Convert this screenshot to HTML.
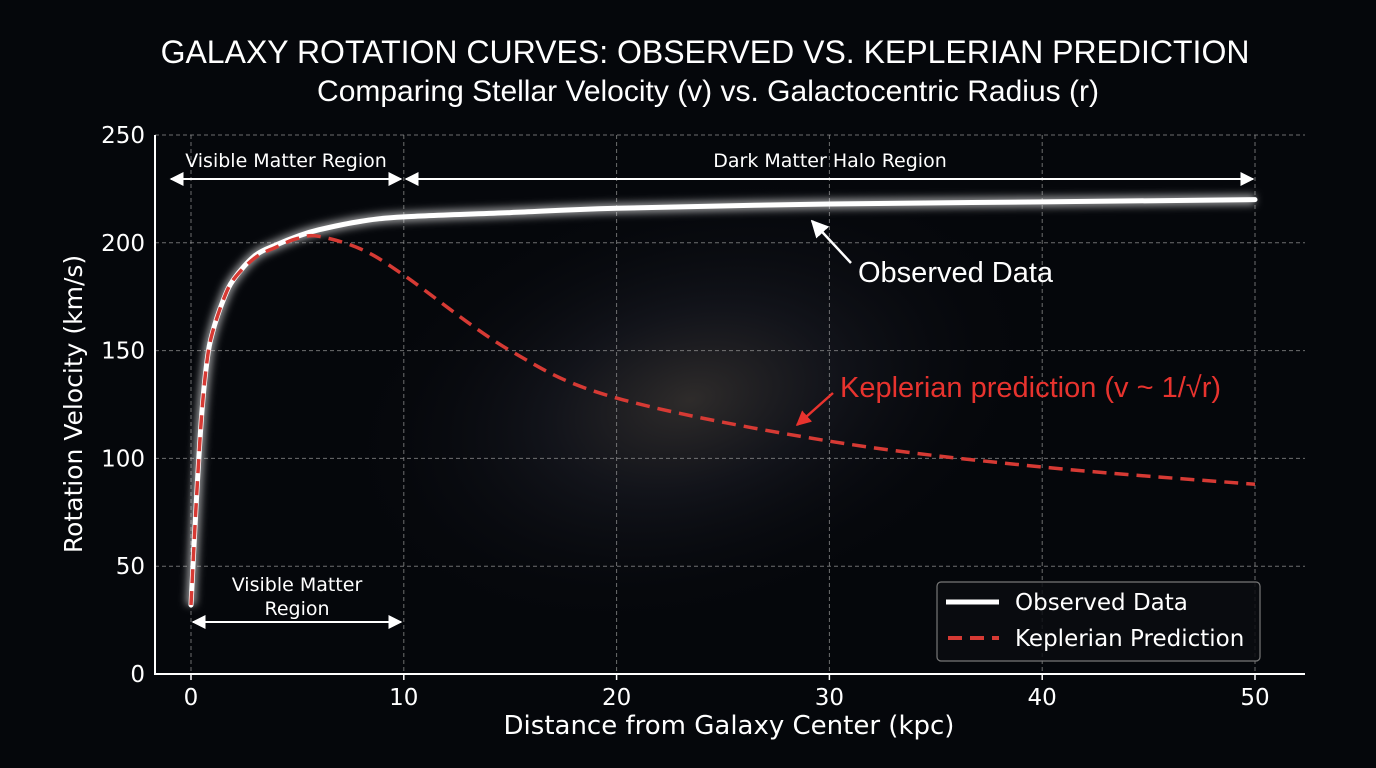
<!DOCTYPE html>
<html><head><meta charset="utf-8"><style>
html,body{margin:0;padding:0;background:#05070b;}
svg{display:block;font-family:"DejaVu Sans","Liberation Sans",sans-serif;}
</style></head><body>
<svg id="chart" width="1376" height="768" viewBox="0 0 1376 768">
<defs>
<radialGradient id="gal" cx="0.5" cy="0.5" r="0.5">
<stop offset="0" stop-color="#4a4440" stop-opacity="0.6"/>
<stop offset="0.4" stop-color="#1f2029" stop-opacity="0.5"/>
<stop offset="1" stop-color="#05070b" stop-opacity="0"/>
</radialGradient>
<filter id="glow" x="-10%" y="-10%" width="120%" height="120%"><feGaussianBlur stdDeviation="4"/></filter>
<marker id="ah" viewBox="0 0 10 10" refX="9" refY="5" markerWidth="7" markerHeight="7" orient="auto-start-reverse"><path d="M0,0 L10,5 L0,10 z" fill="#fff"/></marker>
<marker id="ahr" viewBox="0 0 10 10" refX="9" refY="5" markerWidth="6" markerHeight="6" orient="auto"><path d="M0,0 L10,5 L0,10 z" fill="#e8332e"/></marker>
</defs>
<rect width="1376" height="768" fill="#05070b"/>
<ellipse cx="690" cy="400" rx="360" ry="220" fill="url(#gal)" transform="rotate(-15 690 400)"/>
<text x="705" y="63" text-anchor="middle" fill="#fff" font-size="32" font-family="Liberation Sans, sans-serif">GALAXY ROTATION CURVES: OBSERVED VS. KEPLERIAN PREDICTION</text>
<text x="708" y="101" text-anchor="middle" fill="#fff" font-size="30" font-family="Liberation Sans, sans-serif">Comparing Stellar Velocity (v) vs. Galactocentric Radius (r)</text>
<g id="grid"></g>
<g id="axes"></g>
<g id="series"></g>
<text x="729" y="734" text-anchor="middle" fill="#fff" font-size="26">Distance from Galaxy Center (kpc)</text>
<text transform="translate(82 404) rotate(-90)" text-anchor="middle" fill="#fff" font-size="25">Rotation Velocity (km/s)</text>
<g>
<line x1="171" y1="179" x2="401" y2="179" stroke="#fff" stroke-width="2" marker-start="url(#ah)" marker-end="url(#ah)"/>
<text x="286" y="167" text-anchor="middle" fill="#fff" font-size="19">Visible Matter Region</text>
</g>
<g>
<line x1="406" y1="179" x2="1253" y2="179" stroke="#fff" stroke-width="2" marker-start="url(#ah)" marker-end="url(#ah)"/>
<text x="830" y="167" text-anchor="middle" fill="#fff" font-size="19">Dark Matter Halo Region</text>
</g>
<g>
<line x1="193" y1="622" x2="401" y2="622" stroke="#fff" stroke-width="2" marker-start="url(#ah)" marker-end="url(#ah)"/>
<text x="297" y="591" text-anchor="middle" fill="#fff" font-size="19">Visible Matter</text>
<text x="297" y="615" text-anchor="middle" fill="#fff" font-size="19">Region</text>
</g>
<g>
<line x1="851" y1="263" x2="812" y2="221" stroke="#fff" stroke-width="2.5" marker-end="url(#ah)"/>
<text x="858" y="282" fill="#fff" font-size="29" font-family="Liberation Sans, sans-serif">Observed Data</text>
</g>
<g>
<line x1="833" y1="393" x2="797" y2="425" stroke="#e8332e" stroke-width="2.5" marker-end="url(#ahr)"/>
<text x="840" y="397" fill="#e8332e" font-size="29" font-family="Liberation Sans, sans-serif">Keplerian prediction (v ~ 1/√r)</text>
</g>
<g>
<rect x="937" y="582" width="323" height="79" rx="4" fill="#0a0c10" fill-opacity="0.85" stroke="#777" stroke-width="1.2"/>
<line x1="946" y1="602" x2="999" y2="602" stroke="#fff" stroke-width="5"/>
<text x="1015" y="610" fill="#fff" font-size="23">Observed Data</text>
<line x1="948" y1="638" x2="999" y2="638" stroke="#d63a34" stroke-width="4" stroke-dasharray="14,8"/>
<text x="1015" y="646" fill="#fff" font-size="23">Keplerian Prediction</text>
</g>
</svg>
<script>
const radii = [0,0.25,0.5,0.75,1,1.5,2,3,4,5,6,8,10,15,20,30,40,50];
const observedV = [32,80,120,145,158,173,183,194,199,203,206,210,212,214,216,218,219,220];
const keplerV = [32,80,120,145,158,173,183,193,198,202,203,197,185,150,128,108,96,88];
const xTicks = [0,10,20,30,40,50];
const yTicks = [0,50,100,150,200,250];

const NS='http://www.w3.org/2000/svg';
const X0=191, XS=(1255-191)/50, Y0=674, YS=(674-135)/250;
const sx=v=>X0+v*XS, sy=v=>Y0-v*YS;
function mk(tag,attrs,parent){const e=document.createElementNS(NS,tag);for(const k in attrs)e.setAttribute(k,attrs[k]);parent.appendChild(e);return e;}
const grid=document.getElementById('grid'), axes=document.getElementById('axes'), series=document.getElementById('series');
xTicks.forEach(t=>{
  const g=mk('line',{x1:sx(t),x2:sx(t),y1:135,y2:Y0,stroke:'#9a9a9a','stroke-width':1,'stroke-dasharray':'4,3','stroke-opacity':0.7},grid);
  
  
  const tk=mk('line',{x1:sx(t),x2:sx(t),y1:Y0,y2:Y0+6,stroke:'#fff','stroke-width':1.5},axes);
  
  
  const l=mk('text',{x:sx(t),y:Y0+31,'text-anchor':'middle',fill:'#fff','font-size':23},axes);
  l.textContent=t;
  
  
});
yTicks.forEach(t=>{
  if(t>0){const g=mk('line',{x1:155,x2:1305,y1:sy(t),y2:sy(t),stroke:'#9a9a9a','stroke-width':1,'stroke-dasharray':'4,3','stroke-opacity':0.7},grid);
  
  }
  const l=mk('text',{x:145,y:sy(t)+8,'text-anchor':'end',fill:'#fff','font-size':23},axes);
  l.textContent=t;
  
  
});
const sp=mk('path',{d:'M155,135 V'+Y0+' H1305',fill:'none',stroke:'#fff','stroke-width':2},axes);


function pathFor(xs,ys){
  const p=xs.map((x,i)=>[sx(x),sy(ys[i])]);
  let d='M'+p[0][0]+','+p[0][1];
  for(let i=0;i<p.length-1;i++){
    const a=p[Math.max(i-1,0)],b=p[i],c=p[i+1],e=p[Math.min(i+2,p.length-1)];
    const c1=[b[0]+(c[0]-a[0])/6,b[1]+(c[1]-a[1])/6],c2=[c[0]-(e[0]-b[0])/6,c[1]-(e[1]-b[1])/6];
    d+=' C'+c1+' '+c2+' '+c;
  }
  return d;
}
const od=pathFor(radii,observedV);
const glow=mk('path',{d:od,fill:'none',stroke:'#fff','stroke-width':10,'stroke-opacity':0.6,filter:'url(#glow)'},series);


const ol=mk('path',{d:od,fill:'none',stroke:'#fff','stroke-width':5,'stroke-linecap':'round'},series);


const kl=mk('path',{d:pathFor(radii,keplerV),fill:'none',stroke:'#d63a34','stroke-width':3.5,'stroke-dasharray':'14,8'},series);


</script>
</body></html>
